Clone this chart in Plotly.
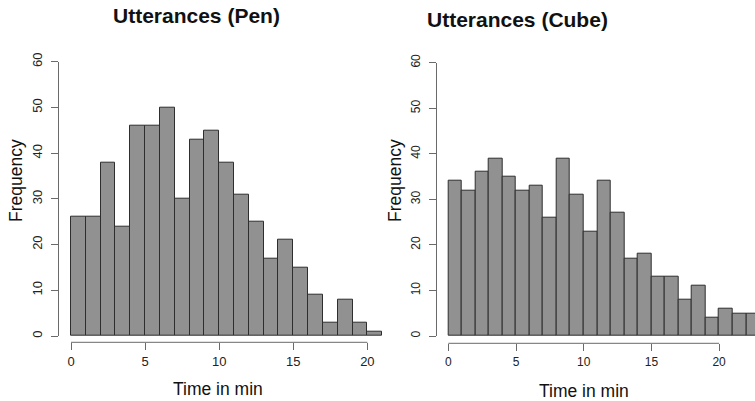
import plotly.graph_objects as go

W, H = 755, 401

bin_width = 1
pen_counts = [26, 26, 38, 24, 46, 46, 50, 30, 43, 45, 38, 31, 25, 17, 21, 15, 9, 3, 8, 3, 1]
cube_counts = [34, 32, 36, 39, 35, 32, 33, 26, 39, 31, 23, 34, 27, 17, 18, 13, 13, 8, 11, 4, 6, 5, 5]
x_ticks = [0, 5, 10, 15, 20]
y_ticks = [0, 10, 20, 30, 40, 50, 60]
titles = ["Utterances (Pen)", "Utterances (Cube)"]
x_title = "Time in min"
y_title = "Frequency"

FONT = "Liberation Sans, Arial, sans-serif"
BAR_FILL = "#919191"
BAR_EDGE = "#2e2e2e"
AXIS_COL = "#6a6a6a"

def px(v):
    return v / W

def py(v):
    return 1 - v / H

fig = go.Figure()

def centers(counts):
    return [i * bin_width + bin_width / 2 for i in range(len(counts))]

fig.add_trace(go.Bar(x=centers(pen_counts), y=pen_counts, width=bin_width,
                     marker=dict(color=BAR_FILL, line=dict(color=BAR_EDGE, width=1)),
                     xaxis="x", yaxis="y", showlegend=False))
fig.add_trace(go.Bar(x=centers(cube_counts), y=cube_counts, width=bin_width,
                     marker=dict(color=BAR_FILL, line=dict(color=BAR_EDGE, width=1)),
                     xaxis="x2", yaxis="y2", showlegend=False))

# panel geometry (pixels)
L = dict(x0=59, x1=385, xr=[-0.81, 21.19], yb=336, yt=61.7, xline=342.3, tfs=13)
R = dict(x0=436.7, x1=755, xr=[-0.86, 22.65], yb=336, yt=62.7, xline=343.3, tfs=12)

def xaxis_cfg(P):
    return dict(domain=[px(P["x0"]), px(P["x1"])], range=P["xr"], anchor="free",
                position=py(P["xline"]), showline=False, showgrid=False, zeroline=False,
                automargin=False,
                tickmode="array", tickvals=x_ticks, ticks="outside", ticklen=7,
                tickcolor=AXIS_COL, tickwidth=1,
                tickfont=dict(family=FONT, size=P["tfs"], color="#222"))

def yaxis_cfg(P, anchor):
    return dict(domain=[py(P["yb"]), py(P["yt"])], range=[0, 60], anchor=anchor,
                showline=True, linecolor=AXIS_COL, linewidth=1, showgrid=False,
                zeroline=False, automargin=False,
                tickmode="array", tickvals=y_ticks, ticks="outside",
                ticklen=7, tickcolor=AXIS_COL, tickwidth=1, tickangle=-90,
                ticklabelstandoff=4,
                tickfont=dict(family=FONT, size=P["tfs"], color="#222"))

fig.update_layout(
    width=W, height=H, margin=dict(l=0, r=0, t=0, b=0, pad=0, autoexpand=False),
    paper_bgcolor="white", plot_bgcolor="white", bargap=0,
    xaxis=xaxis_cfg(L), yaxis=yaxis_cfg(L, "x"),
    xaxis2=xaxis_cfg(R), yaxis2=yaxis_cfg(R, "x2"),
)

# R-style x axis lines spanning first to last tick
for xr, P in (("x", L), ("x2", R)):
    fig.add_shape(type="line", xref=xr, yref="paper", x0=x_ticks[0], x1=x_ticks[-1],
                  y0=py(P["xline"]), y1=py(P["xline"]),
                  line=dict(color=AXIS_COL, width=1))

ann = [
    (titles[0], 196, 16, 0, 21, True),
    (titles[1], 517, 19.5, 0, 21, True),
    (y_title, 16, 181, -90, 17.5, False),
    (y_title, 395, 181, -90, 17.5, False),
    (x_title, 218, 389, 0, 17.5, False),
    (x_title, 584, 391, 0, 17.5, False),
]
for text, x, y, ang, size, bold in ann:
    fig.add_annotation(text=f"<b>{text}</b>" if bold else text, xref="paper", yref="paper",
                       x=px(x), y=py(y), xanchor="center", yanchor="middle",
                       showarrow=False, textangle=ang,
                       font=dict(family=FONT, size=size, color="#111"))

fig.write_html("out.html", config={"displayModeBar": False},
               post_script="document.body.style.margin='0';document.body.style.overflow='hidden';")
